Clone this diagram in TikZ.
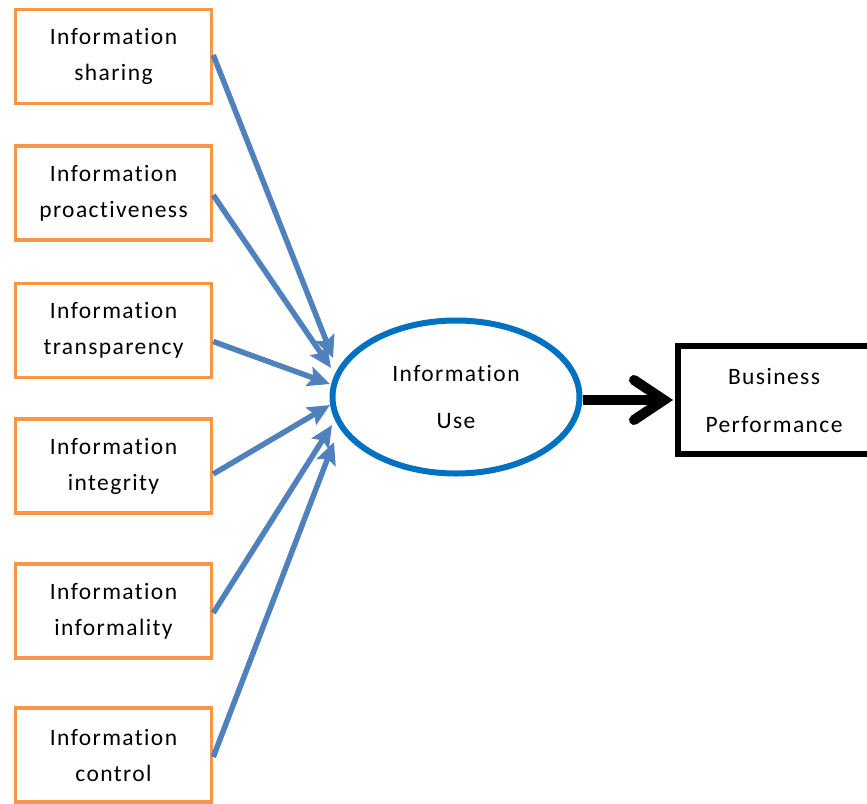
\documentclass[tikz,border=0pt]{standalone}
\usepackage{fontspec}
\setmainfont{Carlito}[LetterSpace=6,Ligatures=NoCommon]
\usetikzlibrary{shapes.geometric,arrows.meta}
\definecolor{boxorange}{HTML}{F79646}
\definecolor{arrowblue}{HTML}{4F81BD}
\definecolor{ellblue}{HTML}{0070C0}
\tikzset{
  factor/.style={draw=boxorange, line width=3.5pt, rectangle, minimum width=196pt,
    minimum height=94pt, inner sep=0pt, align=center,
    font=\fontsize{23.5}{36}\selectfont},
  infl/.style={draw=arrowblue, line width=5.5pt, -{Stealth[length=22pt,width=20pt,inset=4pt]}},
  useell/.style={draw=ellblue, line width=6pt, ellipse, minimum width=247pt,
    minimum height=153pt, inner sep=0pt, align=center,
    font=\fontsize{23.5}{47}\selectfont},
  perfbox/.style={draw=black, line width=6pt, rectangle, minimum width=192pt,
    minimum height=108pt, inner sep=0pt, align=center,
    font=\fontsize{23.5}{48}\selectfont},
  mainarrow/.style={draw=black, line width=10pt,
    -{Straight Barb[length=30pt,width=40pt,line cap=round]}}
}
\begin{document}
\begin{tikzpicture}[x=1pt,y=-1pt]
\useasboundingbox (0,0) rectangle (867,803);
\clip (0,0) rectangle (867,803);
\node[factor] (b1) at (113.5,56.5) {Information\\sharing};
\node[factor] (b2) at (113.5,193) {Information\\proactiveness};
\node[factor] (b3) at (113.5,330.5) {Information\\transparency};
\node[factor] (b4) at (113.5,466) {Information\\integrity};
\node[factor] (b5) at (113.5,611) {Information\\informality};
\node[factor] (b6) at (113.5,755) {Information\\control};
\node[useell] (use) at (456,397) {Information\\Use};
\node[perfbox] (perf) at (774,400) {Business\\Performance};
\coordinate (t1) at (333,358);
\coordinate (t2) at (331,368);
\coordinate (t3) at (330,384);
\coordinate (t4) at (330,405);
\coordinate (t5) at (332,425);
\coordinate (t6) at (334,442);
\draw[infl] ([yshift=1.5pt]b1.east) -- (t1);
\draw[infl] ([yshift=-2pt]b2.east) -- (t2);
\draw[infl] ([yshift=-11pt]b3.east) -- (t3);
\draw[infl] ([yshift=-8pt]b4.east) -- (t4);
\draw[infl] ([yshift=-2pt]b5.east) -- (t5);
\draw[infl] ([yshift=-2pt]b6.east) -- (t6);
\draw[mainarrow] ([yshift=-3pt]use.east) -- ([xshift=-2pt]perf.west);
\end{tikzpicture}
\end{document}
